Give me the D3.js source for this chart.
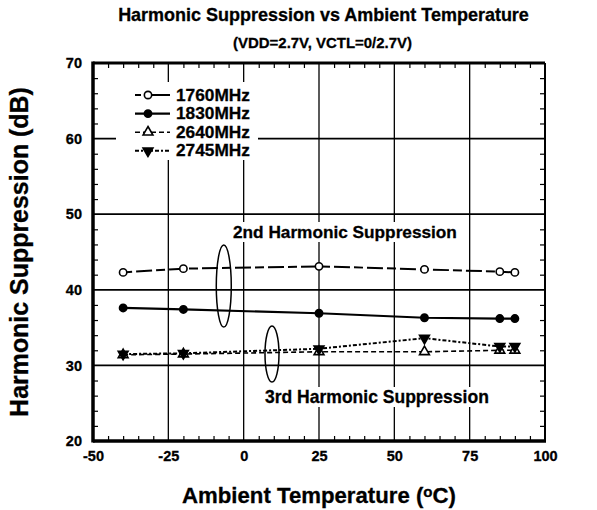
<!DOCTYPE html>
<html>
<head>
<meta charset="utf-8">
<script src="https://cdn.jsdelivr.net/npm/d3@7"></script>
<style>
  body { margin: 0; background: #fff; }
</style>
</head>
<body>
<svg id="chart"></svg>
<script>
// data
var temps = [-40, -20, 25, 60, 85, 90];
var s1760 = [42.3, 42.8, 43.1, 42.7, 42.4, 42.3];
var s1830 = [37.6, 37.4, 36.9, 36.3, 36.2, 36.2];
var s2640 = [31.4, 31.5, 31.8, 31.8, 32.0, 32.0];
var s2745 = [31.5, 31.6, 32.2, 33.6, 32.5, 32.5];
var seriesNames = ["1760MHz", "1830MHz", "2640MHz", "2745MHz"];
var xTicks = [-50, -25, 0, 25, 50, 75, 100];
var yTicks = [20, 30, 40, 50, 60, 70];

var W = 597, H = 510;
var margins = { top: 63, bottom: 69, left: 93, right: 52 };
var FONT = "'Liberation Sans'";

var svg = d3.select("#chart").attr("width", W).attr("height", H)
            .style("font-family", FONT).style("font-weight", "bold");

var xScale = d3.scaleLinear().domain([-50, 100]).range([margins.left, W - margins.right]);
var yScale = d3.scaleLinear().domain([20, 70]).range([H - margins.bottom, margins.top]);

var x0 = xScale(-50), x1 = xScale(100), y0 = yScale(20), y1 = yScale(70);

// sets the font size so a text is as wide as in the picture
function fit(sel, w) {
  var cur = sel.node().getComputedTextLength();
  var fs = parseFloat(sel.attr("font-size"));
  sel.attr("font-size", fs * w / cur);
  return sel;
}
function heavy(sel) {
  return sel.style("font-family", FONT).style("font-weight", "bold")
            .attr("fill", "#000").attr("stroke", "#000").attr("stroke-width", 0.3);
}
function label(x, y, size, str) {
  return heavy(svg.append("text").attr("x", x).attr("y", y).attr("font-size", size).text(str));
}

// gridlines
var grid = svg.append("g").classed("grid", true);
grid.selectAll("line.v")
    .data(xTicks.slice(1, -1))
    .enter().append("line")
    .attr("x1", function(d){ return xScale(d); })
    .attr("x2", function(d){ return xScale(d); })
    .attr("y1", y1).attr("y2", y0)
    .attr("stroke", "#000").attr("stroke-width", 1.3);
grid.selectAll("line.h")
    .data(yTicks.slice(1, -1))
    .enter().append("line")
    .attr("y1", function(d){ return yScale(d); })
    .attr("y2", function(d){ return yScale(d); })
    .attr("x1", x0).attr("x2", x1)
    .attr("stroke", "#000").attr("stroke-width", 1.7);

// minor ticks on all four sides, pointing in
var xMinor = d3.range(-45, 100, 5).filter(function(d){ return d % 25 !== 0; });
var yMinor = d3.range(22, 70, 2).filter(function(d){ return d % 10 !== 0; });

function minorAxis(axis, vals, tx, ty) {
  svg.append("g")
    .attr("transform", "translate(" + tx + "," + ty + ")")
    .call(axis.tickValues(vals).tickSize(-5).tickFormat(""))
    .call(function(g){ g.select(".domain").remove(); g.selectAll("line").attr("stroke-width", 1.2); });
}
minorAxis(d3.axisBottom(xScale), xMinor, 0, y0);
minorAxis(d3.axisTop(xScale), xMinor, 0, y1);
minorAxis(d3.axisLeft(yScale), yMinor, x0, 0);
minorAxis(d3.axisRight(yScale), yMinor, x1, 0);

// frame
svg.append("line").attr("x1", x0).attr("x2", x1).attr("y1", y1).attr("y2", y1).attr("stroke", "#000").attr("stroke-width", 3);
svg.append("line").attr("x1", x1).attr("x2", x1).attr("y1", y1).attr("y2", y0).attr("stroke", "#000").attr("stroke-width", 2);
svg.append("line").attr("x1", x0).attr("x2", x0).attr("y1", y1 - 1.5).attr("y2", y0 + 1.5).attr("stroke", "#000").attr("stroke-width", 3.5);
svg.append("line").attr("x1", x0).attr("x2", x1 + 1).attr("y1", y0).attr("y2", y0).attr("stroke", "#000").attr("stroke-width", 3.5);

// tick labels
function styleTicks(g) {
  g.select(".domain").remove();
  g.attr("font-family", null).attr("font-size", null);
  heavy(g.selectAll("text").attr("font-size", 14.5));
}
var xAxis = d3.axisBottom(xScale).tickValues(xTicks).tickSize(0).tickPadding(10)
              .tickFormat(function(d){ return String(d); });
svg.append("g").classed("xAxis", true)
   .attr("transform", "translate(0," + y0 + ")")
   .call(xAxis).call(styleTicks);

var yAxis = d3.axisLeft(yScale).tickValues(yTicks).tickSize(0).tickPadding(11)
              .tickFormat(function(d){ return String(d); });
svg.append("g").classed("yAxis", true)
   .attr("transform", "translate(" + x0 + ",0)")
   .call(yAxis).call(styleTicks);

// series
var series = [
  { name: seriesNames[0], vals: s1760, dash: "9,4,16,4", width: 2, marker: "circle", fill: "#fff" },
  { name: seriesNames[1], vals: s1830, dash: null, width: 2.2, marker: "circle", fill: "#000" },
  { name: seriesNames[2], vals: s2640, dash: "5,3", width: 1.6, marker: "up", fill: "#fff" },
  { name: seriesNames[3], vals: s2745, dash: "4,2,2,2", width: 2, marker: "down", fill: "#000" }
];

var line = d3.line()
  .x(function(d){ return xScale(d[0]); })
  .y(function(d){ return yScale(d[1]); });

var symbolFor = {
  circle: d3.symbol().type(d3.symbolCircle).size(42),
  up: d3.symbol().type(d3.symbolTriangle).size(42),
  down: d3.symbol().type(d3.symbolTriangle).size(42)
};

function drawMarker(g, s, cx, cy) {
  g.append("path")
   .attr("d", symbolFor[s.marker]())
   .attr("transform", "translate(" + cx + "," + cy + ")" + (s.marker === "down" ? " rotate(180)" : ""))
   .attr("fill", s.fill)
   .attr("stroke", "#000")
   .attr("stroke-width", 1.6);
}

var plot = svg.append("g").classed("plot", true);
series.forEach(function(s){
  var pts = temps.map(function(t, i){ return [t, s.vals[i]]; });
  plot.append("path")
      .datum(pts)
      .attr("d", line)
      .attr("fill", "none")
      .attr("stroke", "#000")
      .attr("stroke-width", s.width)
      .attr("stroke-dasharray", s.dash);
  pts.forEach(function(p){ drawMarker(plot, s, xScale(p[0]), yScale(p[1])); });
});

// legend
var legend = svg.append("g").classed("legend", true).attr("transform", "translate(116,82)");
legend.append("rect").attr("x", 0).attr("y", 0).attr("width", 142).attr("height", 78).attr("fill", "#fff");
series.forEach(function(s, i){
  var ly = 13 + i * 18.6;
  legend.append("line")
    .attr("x1", 19).attr("x2", 54).attr("y1", ly).attr("y2", ly)
    .attr("stroke", "#000").attr("stroke-width", s.width)
    .attr("stroke-dasharray", s.dash ? (i === 0 ? "6,4,30,0" : s.dash) : null);
  drawMarker(legend, s, 32, ly);
  var t = heavy(legend.append("text").attr("x", 60).attr("y", ly + 5.5).attr("font-size", 15).text(s.name));
  fit(t, 74);
});

// ellipse call-outs
var callouts = [
  { cx: -6.6, cy: 40.5, rx: 7.5, ry: 41, label: "2nd Harmonic Suppression" },
  { cx: 9.4, cy: 31.5, rx: 7, ry: 28, label: "3rd Harmonic Suppression" }
];
callouts.forEach(function(c){
  svg.append("ellipse")
     .attr("cx", xScale(c.cx)).attr("cy", yScale(c.cy))
     .attr("rx", c.rx).attr("ry", c.ry)
     .attr("fill", "none").attr("stroke", "#000").attr("stroke-width", 1.5);
});
svg.append("rect").attr("x", 232).attr("y", 222).attr("width", 226).attr("height", 20).attr("fill", "#fff");
fit(label(233, 238, 15, callouts[0].label), 224);
svg.append("rect").attr("x", 264).attr("y", 387).attr("width", 226).attr("height", 20).attr("fill", "#fff");
fit(label(265, 403, 15, callouts[1].label), 224);

// titles
fit(label(323.5, 21, 17, "Harmonic Suppression vs Ambient Temperature").attr("text-anchor", "middle"), 411);
fit(label(322.5, 48, 12, "(VDD=2.7V, VCTL=0/2.7V)").attr("text-anchor", "middle"), 179);

var xt = label(319, 503, 17, "").attr("text-anchor", "middle");
xt.append("tspan").text("Ambient Temperature (");
xt.append("tspan").attr("font-size", "0.68em").attr("dy", -6).text("o");
xt.append("tspan").attr("dy", 6).text("C)");
fit(xt, 274);

var yt = label(0, 0, 17, "Harmonic Suppression (dB)")
   .attr("transform", "translate(28," + ((y0 + y1) / 2) + ") rotate(-90)")
   .attr("text-anchor", "middle");
fit(yt, 330);
</script>
</body>
</html>
